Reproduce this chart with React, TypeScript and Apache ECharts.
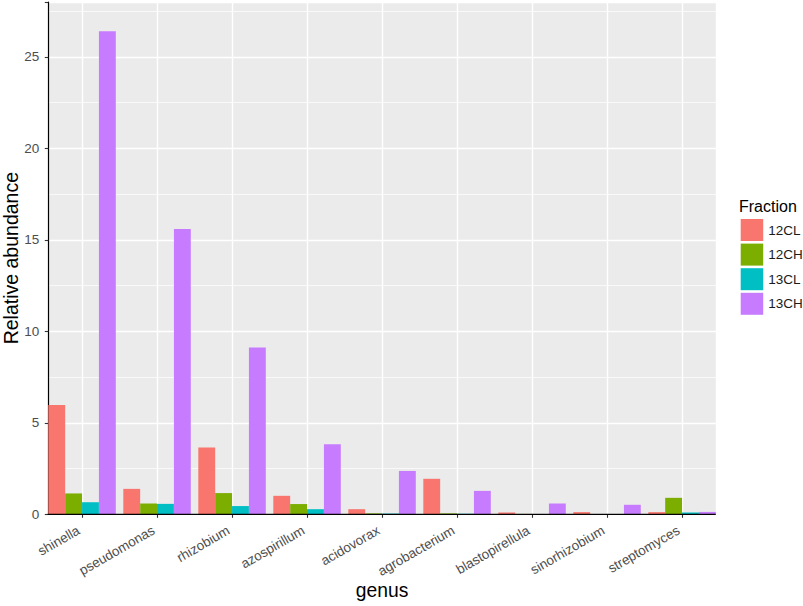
import React, { useEffect, useRef } from "react";
import * as echarts from "echarts";

const categories = [
  "shinella",
  "pseudomonas",
  "rhizobium",
  "azospirillum",
  "acidovorax",
  "agrobacterium",
  "blastopirellula",
  "sinorhizobium",
  "streptomyces",
];
const fractions = ["12CL", "12CH", "13CL", "13CH"];
const values12CL = [5.97, 1.39, 3.65, 1.01, 0.28, 1.94, 0.1, 0.12, 0.12];
const values12CH = [1.14, 0.59, 1.16, 0.56, 0.05, 0.05, 0.02, 0.01, 0.9];
const values13CL = [0.66, 0.57, 0.45, 0.28, 0.04, 0.03, 0.01, 0.01, 0.1];
const values13CH = [26.4, 15.6, 9.12, 3.83, 2.37, 1.28, 0.59, 0.52, 0.13];
const yTicks = [0, 5, 10, 15, 20, 25];

const seriesValues = [values12CL, values12CH, values13CL, values13CH];
const colors = ["#F8766D", "#7CAE00", "#00BFC4", "#C77CFF"];

const FONT = "'Liberation Sans', Arial, Helvetica, sans-serif";

// panel geometry (pixels)
const PANEL_LEFT = 48.3;
const PANEL_RIGHT = 715.8;
const PANEL_TOP = 2;
const PANEL_BOTTOM = 514.3;
const BAND = 75;
const GRID_LEFT = PANEL_LEFT - BAND * 0.05;
const GRID_WIDTH = BAND * categories.length;

export default function App() {
  const ref = useRef<HTMLDivElement>(null);
  useEffect(() => {
    if (!ref.current) return;
    const chart = echarts.init(ref.current, undefined, { renderer: "svg" });
    chart.setOption({
      animation: false,
      backgroundColor: "#FFFFFF",
      textStyle: { fontFamily: FONT },
      title: {
        text: "Fraction",
        left: 739,
        top: 198,
        padding: 0,
        textStyle: { fontFamily: FONT, fontSize: 16, fontWeight: "normal", color: "#000000" },
      },
      legend: {
        data: fractions,
        orient: "vertical",
        left: 740.7,
        top: 219,
        padding: 0,
        itemWidth: 22.5,
        itemHeight: 22,
        itemGap: 2.6,
        icon: "rect",
        selectedMode: false,
        textStyle: { fontFamily: FONT, fontSize: 13.5, color: "#1A1A1A" },
      },
      graphic: [
        {
          type: "rect",
          z: -10,
          silent: true,
          shape: {
            x: PANEL_LEFT,
            y: PANEL_TOP,
            width: PANEL_RIGHT - PANEL_LEFT,
            height: PANEL_BOTTOM - PANEL_TOP,
          },
          style: { fill: "#EBEBEB" },
        },
        {
          type: "line",
          z: 50,
          silent: true,
          shape: { x1: PANEL_LEFT - 0.6, y1: PANEL_BOTTOM, x2: PANEL_RIGHT, y2: PANEL_BOTTOM },
          style: { stroke: "#000000", lineWidth: 1.2 },
        },
      ],
      grid: {
        left: GRID_LEFT,
        top: PANEL_TOP,
        width: GRID_WIDTH,
        height: PANEL_BOTTOM - PANEL_TOP,
        containLabel: false,
        outerBoundsMode: "none",
      },
      xAxis: {
        type: "category",
        data: categories,
        boundaryGap: true,
        name: "genus",
        nameLocation: "middle",
        nameGap: 67,
        nameMoveOverlap: false,
        nameTextStyle: { fontFamily: FONT, fontSize: 19.3, color: "#000000" },
        axisLine: { show: false },
        axisTick: {
          show: true,
          alignWithLabel: true,
          length: 3.5,
          lineStyle: { color: "#333333", width: 1.1 },
        },
        axisLabel: {
          rotate: 30,
          margin: 13,
          padding: [0, 4, 0, 0],
          fontFamily: FONT,
          fontSize: 13.5,
          color: "#4D4D4D",
        },
        splitLine: {
          show: true,
          alignWithLabel: true,
          lineStyle: { color: "#FFFFFF", width: 1.4 },
        },
      },
      yAxis: {
        type: "value",
        min: 0,
        max: 28,
        interval: 5,
        offset: -(PANEL_LEFT - GRID_LEFT),
        name: "Relative abundance",
        nameLocation: "middle",
        nameGap: 27,
        nameMoveOverlap: false,
        nameTextStyle: { fontFamily: FONT, fontSize: 19.5, color: "#000000" },
        axisLine: { show: true, lineStyle: { color: "#000000", width: 1.2 } },
        axisTick: { show: true, length: 3.5, lineStyle: { color: "#333333", width: 1.1 } },
        axisLabel: {
          margin: 9,
          fontFamily: FONT,
          fontSize: 13.5,
          color: "#4D4D4D",
          customValues: yTicks,
        },
        splitLine: { show: true, lineStyle: { color: "#FFFFFF", width: 1.4 } },
        minorTick: { show: false, splitNumber: 2 },
        minorSplitLine: { show: true, lineStyle: { color: "#FFFFFF", width: 0.7 } },
      },
      series: fractions.map((name, i) => ({
        name,
        type: "bar",
        data: seriesValues[i],
        barGap: "0%",
        barCategoryGap: "10%",
        itemStyle: { color: colors[i] },
        z: 5,
      })),
    });
    return () => chart.dispose();
  }, []);
  return (
    <div
      ref={ref}
      style={{ position: "fixed", left: 0, top: 0, width: 803, height: 606 }}
    />
  );
}
